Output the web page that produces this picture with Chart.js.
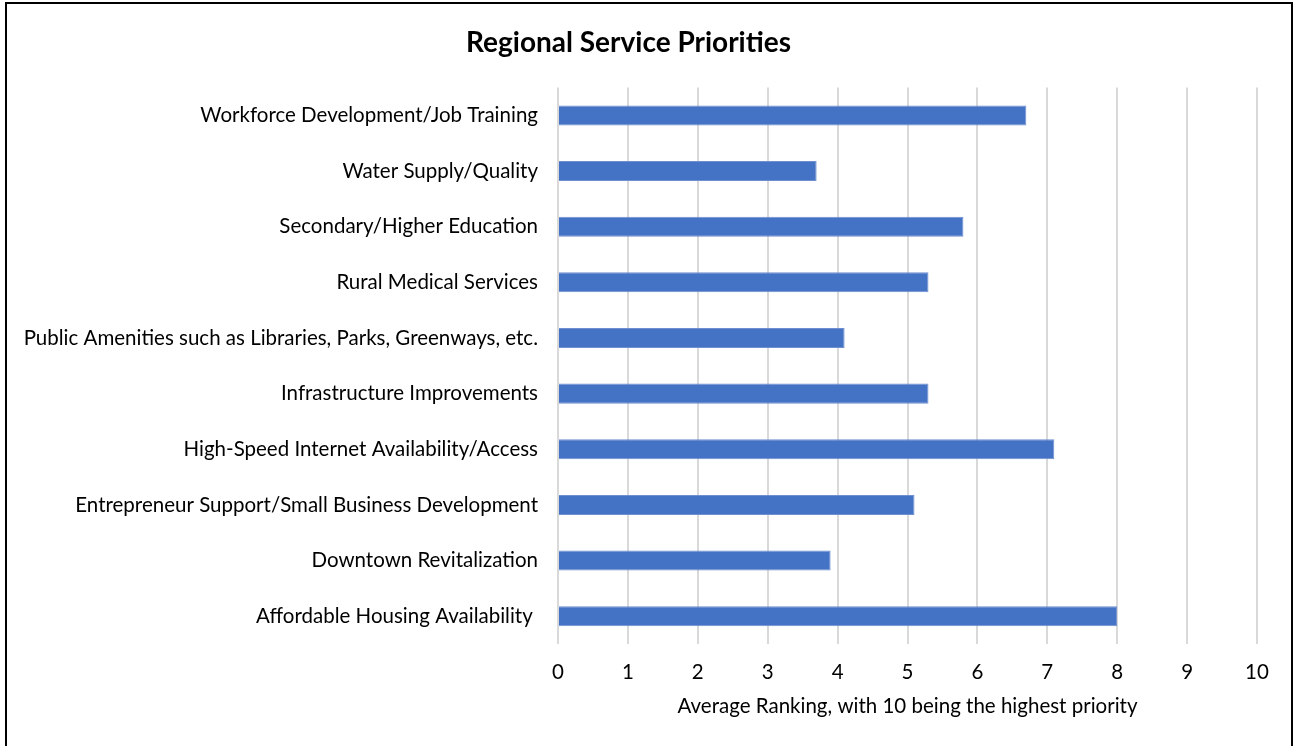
<!DOCTYPE html>
<html>
<head>
<meta charset="utf-8">
<script src="https://cdn.jsdelivr.net/npm/chart.js@4"></script>
<style>
  html, body { margin: 0; padding: 0; background: #fff; }
  #wrap { position: relative; width: 1294px; height: 746px; overflow: hidden; }
  #frame {
    position: absolute; left: 5px; top: 2px; width: 1284px; height: 760px;
    border: 2px solid #000; pointer-events: none;
  }
</style>
</head>
<body>
<div id="wrap">
  <canvas id="chart" width="1294" height="746"></canvas>
  <div id="frame"></div>
</div>
<script>
// Categories, top to bottom as shown
const categories = [
  'Workforce Development/Job Training',
  'Water Supply/Quality',
  'Secondary/Higher Education',
  'Rural Medical Services',
  'Public Amenities such as Libraries, Parks, Greenways, etc.',
  'Infrastructure Improvements',
  'High-Speed Internet Availability/Access',
  'Entrepreneur Support/Small Business Development',
  'Downtown Revitalization',
  'Affordable Housing Availability '
];
const avgRanking = [6.7, 3.7, 5.8, 5.3, 4.1, 5.3, 7.1, 5.1, 3.9, 8.0];

const chartTitle = 'Regional Service Priorities';
const xAxisTitle = 'Average Ranking, with 10 being the highest priority';
const xMin = 0;
const xMax = 10;

const FONT = 'Lato, "Open Sans", sans-serif';

const ctx = document.getElementById('chart').getContext('2d');
new Chart(ctx, {
  type: 'bar',
  data: {
    labels: categories,
    datasets: [{
      data: avgRanking,
      backgroundColor: '#4472C4',
      borderColor: '#6f8fd0',
      borderWidth: 1,
      barPercentage: 0.36,
      categoryPercentage: 1
    }]
  },
  options: {
    indexAxis: 'y',
    responsive: false,
    animation: false,
    layout: { padding: { left: 0, right: 37, top: 0, bottom: 23 } },
    plugins: {
      legend: { display: false },
      tooltip: { enabled: false },
      title: {
        display: true,
        text: chartTitle,
        color: '#000',
        font: { family: FONT, size: 28, weight: 'bold' },
        padding: { top: 26, bottom: 28 }
      }
    },
    scales: {
      x: {
        min: xMin,
        max: xMax,
        afterFit: (scale) => { scale.height = 79; },
        ticks: {
          stepSize: 1,
          color: '#000',
          padding: 16,
          font: { family: FONT, size: 20.5 }
        },
        grid: { color: '#d9d9d9', lineWidth: 2, drawTicks: false },
        border: { display: false },
        title: {
          display: true,
          text: xAxisTitle,
          color: '#000',
          font: { family: FONT, size: 20.5 },
          padding: { top: 4, bottom: 4 }
        }
      },
      y: {
        afterFit: (scale) => { scale.width = 558; },
        ticks: {
          color: '#000',
          padding: 12,
          font: { family: FONT, size: 20.5 }
        },
        grid: { display: false },
        border: { display: false }
      }
    }
  }
});
</script>
</body>
</html>
